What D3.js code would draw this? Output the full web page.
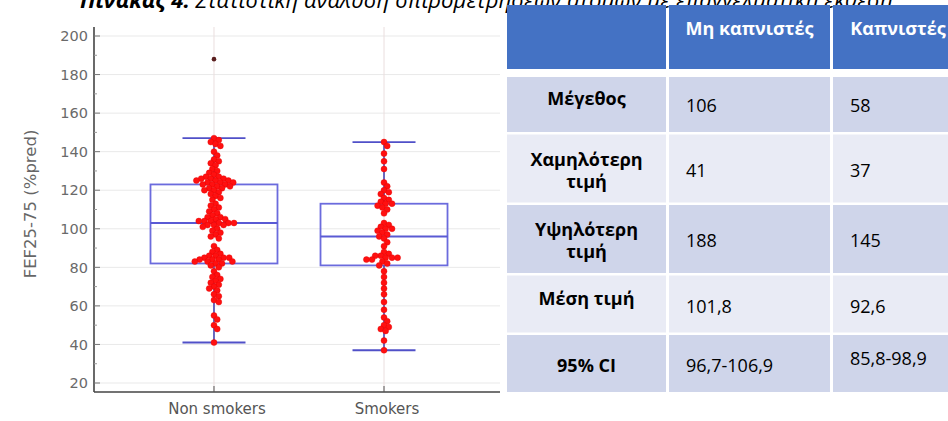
<!DOCTYPE html>
<html><head><meta charset="utf-8">
<script src="https://cdn.jsdelivr.net/npm/d3@7"></script>
<style>body{margin:0;background:#fff} svg{display:block}</style>
</head><body>
<svg id="c" width="948" height="421"></svg>
<script>
// ---------- DATA ----------
const caption = ["Πίνακας 4:", " Στατιστική ανάλυση σπιρομετρήσεων ατόμων με επαγγελματική έκθεση"];
const categories = ["Non smokers", "Smokers"];
const yTicks = [20, 40, 60, 80, 100, 120, 140, 160, 180, 200];
const yTitle = "FEF25-75 (%pred)";
const nonSmokers = [188,
  147, 146, 145, 144, 143,
  140, 138, 136, 135, 134, 133, 131, 130, 129,
  128, 127, 127, 126, 126, 126, 125, 125, 125, 124, 124, 124, 123, 123, 123, 122, 122, 121, 121, 120, 120, 119, 118,
  117, 116, 115, 113, 112, 111, 110, 109, 108,
  107, 106, 106, 105, 105, 104, 104, 104, 103, 103, 103, 102, 102, 102, 101, 100, 99, 98, 97, 96, 95,
  91, 89, 88, 87, 86, 86, 85, 85, 85, 84, 84, 84, 83, 83, 83, 82, 82, 81, 80,
  78, 76, 75, 74, 73, 72, 71, 70, 69, 68, 66, 65, 63, 62,
  55, 53, 50, 48,
  41];
const smokers = [145, 143, 139, 135, 131,
  124, 122, 120, 119, 118,
  116, 115, 114, 113, 113, 112, 111, 110, 108,
  103, 102, 101, 100, 100, 99, 98, 97, 96, 95, 93, 91,
  88, 87, 86, 86, 85, 85, 85, 84, 84, 83, 82, 81,
  78, 75, 72, 69, 66, 62, 58,
  54, 52, 50, 49, 48, 47,
  42, 37];
const boxQ1 = [82, 81];
const boxMedian = [103, 96];
const boxQ3 = [123, 113];
const whiskerLow = [41, 37];
const whiskerHigh = [147, 145];

const tableHeader = ["", "Μη καπνιστές", "Καπνιστές"];
const rowLabels = [["Μέγεθος"], ["Χαμηλότερη", "τιμή"], ["Υψηλότερη", "τιμή"], ["Μέση τιμή"], ["95% CI"]];
const nonSmokerStats = ["106", "41", "188", "101,8", "96,7-106,9"];
const smokerStats = ["58", "37", "145", "92,6", "85,8-98,9"];

// ---------- LAYOUT ----------
const svg = d3.select("#c");
const plot = {left: 94, right: 500, top: 27, bottom: 392};
const y = d3.scaleLinear().domain([20, 200]).range([383, 36]);
const x = d3.scalePoint().domain(categories).range([96, 502]).padding(0.694);
const boxHalf = 63.5, capHalf = 31.5;

// caption (partly cut off at top, as in the source)
const cap = svg.append("text").attr("x", 80).attr("y", 8)
  .attr("font-family", "Open Sans").attr("font-size", 20).attr("font-style", "italic").attr("fill", "#000");
cap.append("tspan").attr("font-weight", "bold").text(caption[0]);
cap.append("tspan").text(caption[1]);
const capLen = cap.node().getComputedTextLength();
cap.attr("font-size", 20 * 813 / capLen);

const g = svg.append("g");

// gridlines
g.selectAll("line.grid").data(yTicks).join("line")
  .attr("x1", plot.left).attr("x2", plot.right)
  .attr("y1", d => y(d)).attr("y2", d => y(d))
  .attr("stroke", "#e9e9e9").attr("stroke-width", 1);
g.selectAll("line.vgrid").data(categories).join("line")
  .attr("x1", d => x(d)).attr("x2", d => x(d))
  .attr("y1", plot.top).attr("y2", plot.bottom)
  .attr("stroke", "#eadede").attr("stroke-width", 1);

// boxes
const idx = d3.range(categories.length);
g.selectAll("rect.box").data(idx).join("rect")
  .attr("x", i => x(categories[i]) - boxHalf).attr("width", boxHalf * 2)
  .attr("y", i => y(boxQ3[i])).attr("height", i => y(boxQ1[i]) - y(boxQ3[i]))
  .attr("fill", "none").attr("stroke", "#6b6bdd").attr("stroke-width", 1.8);
g.selectAll("line.med").data(idx).join("line")
  .attr("x1", i => x(categories[i]) - boxHalf).attr("x2", i => x(categories[i]) + boxHalf)
  .attr("y1", i => y(boxMedian[i])).attr("y2", i => y(boxMedian[i]))
  .attr("stroke", "#5a5ad4").attr("stroke-width", 1.8);
// whiskers
idx.forEach(i => {
  const cx = x(categories[i]);
  [[whiskerHigh[i], boxQ3[i]], [boxQ1[i], whiskerLow[i]]].forEach(([a, b]) => {
    g.append("line").attr("x1", cx).attr("x2", cx).attr("y1", y(a)).attr("y2", y(b))
      .attr("stroke", "#3c3cae").attr("stroke-width", 1.5);
  });
  [whiskerHigh[i], whiskerLow[i]].forEach(v => {
    g.append("line").attr("x1", cx - capHalf).attr("x2", cx + capHalf).attr("y1", y(v)).attr("y2", y(v))
      .attr("stroke", "#5050c8").attr("stroke-width", 1.8);
  });
});

// beeswarm points
function swarm(values, cx) {
  const D = 5, placed = [];
  const sorted = values.slice().sort((a, b) => b - a);
  return sorted.map(v => {
    const yy = y(v);
    let off = 0;
    for (let k = 0; k < 200; k++) {
      const o = (k % 2 ? 1 : -1) * Math.ceil(k / 2) * 0.8;
      const ok = placed.every(p => (p.x - (cx + o)) ** 2 + (p.y - yy) ** 2 >= D * D);
      if (ok) { off = o; break; }
    }
    const p = {x: cx + off, y: yy, v};
    placed.push(p);
    return p;
  });
}
const groups = [nonSmokers, smokers];
idx.forEach(i => {
  const pts = swarm(groups[i], x(categories[i]));
  const out = d => d.v > whiskerHigh[i] || d.v < whiskerLow[i];
  g.selectAll(null).data(pts).join("circle")
    .attr("cx", d => d.x).attr("cy", d => d.y)
    .attr("r", d => out(d) ? 2.3 : 3)
    .attr("fill", d => out(d) ? "#5a1e1e" : "#ff1010")
    .attr("stroke", d => out(d) ? "none" : "#e00000")
    .attr("stroke-width", 0.4);
});

// axes
g.append("line").attr("x1", plot.left).attr("x2", plot.left).attr("y1", plot.top).attr("y2", plot.bottom)
  .attr("stroke", "#444").attr("stroke-width", 1.6);
g.append("line").attr("x1", plot.left).attr("x2", plot.right).attr("y1", plot.bottom).attr("y2", plot.bottom)
  .attr("stroke", "#444").attr("stroke-width", 1.6);
g.selectAll("line.ytick").data(yTicks).join("line")
  .attr("x1", plot.left).attr("x2", plot.left + 6).attr("y1", d => y(d)).attr("y2", d => y(d))
  .attr("stroke", "#777").attr("stroke-width", 1);
g.selectAll("line.yminor").data(d3.range(30, 200, 20)).join("line")
  .attr("x1", plot.left).attr("x2", plot.left + 3).attr("y1", d => y(d)).attr("y2", d => y(d))
  .attr("stroke", "#999").attr("stroke-width", 1);
g.selectAll("line.xtick").data(categories).join("line")
  .attr("x1", d => x(d)).attr("x2", d => x(d)).attr("y1", plot.bottom - 6).attr("y2", plot.bottom)
  .attr("stroke", "#555").attr("stroke-width", 1);
g.selectAll("text.ytl").data(yTicks).join("text")
  .attr("x", 88).attr("y", d => y(d)).attr("dy", "0.36em").attr("text-anchor", "end")
  .attr("font-family", "DejaVu Sans").attr("font-size", 14.5).attr("fill", "#6a6a6a").text(d => d);
g.selectAll("text.xtl").data(categories).join("text")
  .attr("x", d => x(d) + 3).attr("y", 414).attr("text-anchor", "middle")
  .attr("font-family", "DejaVu Sans").attr("font-size", 15).attr("fill", "#555").text(d => d);
g.append("text").attr("transform", "translate(36,204) rotate(-90)").attr("text-anchor", "middle")
  .attr("font-family", "DejaVu Sans").attr("font-size", 16.5).attr("fill", "#666").text(yTitle);

// ---------- TABLE ----------
const colX = [507, 669, 833], colW = [159, 161, 130];
const headerY = 5, headerH = 64;
const rowHeights = [55, 68, 68, 57, 57], rowGap = 2.5;
const rowY = [];
let cy = 77;
rowHeights.forEach(h => { rowY.push(cy); cy += h + rowGap; });
const rowFill = ["#CFD5EA", "#E9EBF5", "#CFD5EA", "#E9EBF5", "#CFD5EA"];
const labelShift = [0, 0, 0, 1, 8];
const valueShift = [[7, 7], [8, 8], [8, 8], [9, 9], [8, 1]];
const tg = svg.append("g").attr("font-family", "Open Sans");

tg.selectAll("rect.h").data(tableHeader).join("rect")
  .attr("x", (d, i) => colX[i]).attr("width", (d, i) => colW[i])
  .attr("y", headerY).attr("height", headerH).attr("fill", "#4472C4");
tg.selectAll("text.h").data(tableHeader).join("text")
  .attr("x", (d, i) => colX[i] + colW[i] / 2).attr("y", headerY + headerH / 2 - 2)
  .attr("text-anchor", "middle").attr("font-size", 18).attr("font-weight", "bold").attr("fill", "#fff")
  .text(d => d);

rowLabels.forEach((lab, r) => {
  const ry = rowY[r], rh = rowHeights[r], c = ry + rh / 2;
  [0, 1, 2].forEach(ci => {
    tg.append("rect").attr("x", colX[ci]).attr("width", colW[ci]).attr("y", ry).attr("height", rh)
      .attr("fill", rowFill[r]);
  });
  const t = tg.append("text").attr("x", colX[0] + colW[0] / 2).attr("text-anchor", "middle")
    .attr("font-size", 18).attr("font-weight", "bold").attr("fill", "#000");
  if (lab.length === 1) {
    t.attr("y", c + labelShift[r]).text(lab[0]);
  } else {
    lab.forEach((s, k) => t.append("tspan").attr("x", colX[0] + colW[0] / 2).attr("y", c - 3 + k * 22).text(s));
  }
  [nonSmokerStats[r], smokerStats[r]].forEach((v, k) => {
    tg.append("text").attr("x", colX[k + 1] + 17).attr("y", c + valueShift[r][k])
      .attr("font-size", 18).attr("fill", "#000").text(v);
  });
});
</script>
</body></html>
